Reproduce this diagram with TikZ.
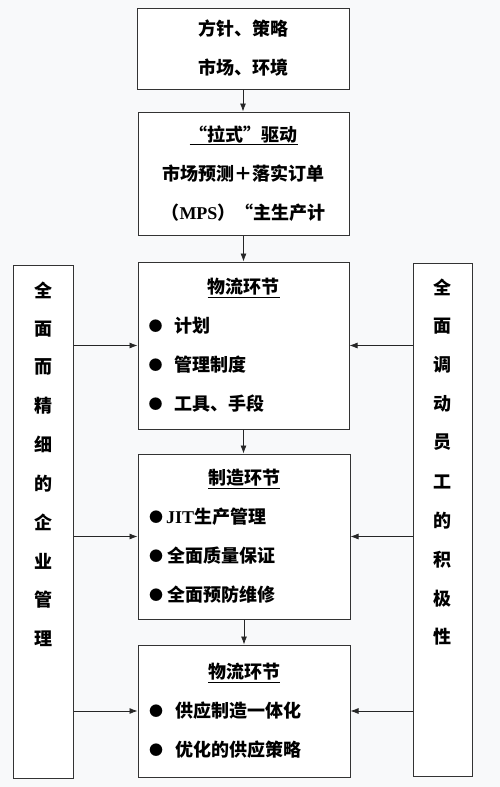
\documentclass[tikz,border=0pt]{standalone}
\usepackage{fontspec}
\setmainfont{Noto Sans CJK SC}
\newfontfamily\latfont{Liberation Serif}
\usepackage{tikz}
\usetikzlibrary{arrows.meta,positioning}
\definecolor{pagebg}{RGB}{248,249,250}
\newcommand{\bul}[2]{\makebox[190pt][l]{\raisebox{1pt}{\makebox[14pt][l]{\fontsize{14}{14}\selectfont●}}\hspace{#1}#2}}

\begin{document}
\begin{tikzpicture}[x=1pt,y=-1pt,
    box/.style={draw=black!80, line width=1pt, fill=white, align=center, inner sep=0pt,
                font=\bfseries\fontsize{18}{39}\selectfont},
    side/.style={draw=black!80, line width=1pt, fill=white, minimum width=60pt,
                 minimum height=513pt, inner sep=0pt},
    vchar/.style={font=\bfseries\fontsize{18}{18}\selectfont, inner sep=0pt},
    arr/.style={-{Latex[length=8pt,width=6pt]}, line width=0.8pt, black!85}]

    \fill[pagebg] (0,0) rectangle (500,787);
    \useasboundingbox (0,0) rectangle (500,787);

    % main column
    \node[box, minimum width=212pt, minimum height=81pt] (plan) at (243,48.5)
        {方针、策略\\市场、环境};
    \node[box, minimum width=211pt, minimum height=123pt] (pull) at (243.5,173.5)
        {\underline{“拉式”驱动}\\市场预测＋落实订单\\（{\latfont MPS}）“主生产计};
    \node[box, minimum width=211pt, minimum height=167pt] (flow) at (243.5,345.5)
        {\underline{物流环节}\\\bul{12pt}{计划}\\\bul{12pt}{管理制度}\\\bul{12pt}{工具、手段}};
    \node[box, minimum width=212pt, minimum height=165pt] (make) at (244,536.5)
        {\underline{制造环节}\\\bul{3pt}{{\latfont JIT}生产管理}\\\bul{4pt}{全面质量保证}\\\bul{4pt}{全面预防维修}};
    \node[box, minimum width=212pt, minimum height=132pt] (supply) at (244,711)
        {\underline{物流环节}\\\bul{12pt}{供应制造一体化}\\\bul{12pt}{优化的供应策略}};

    % side columns
    \node[side] (lean) at (43,521.5) {};
    \node[side, minimum width=59pt] (staff) at (442.5,519.5) {};

    \foreach \c [count=\i] in {全,面,而,精,细,的,企,业,管,理}{
        \node[vchar] (lean\i) at (43,{290+38.7*(\i-1)}) {\c};
    }
    \foreach \c [count=\i] in {全,面,调,动,员,工,的,积,极,性}{
        \node[vchar] (staff\i) at (442.5,{287+38.9*(\i-1)}) {\c};
    }

    % arrows
    \foreach \s/ \d in {plan/pull, pull/flow, flow/make, make/supply}{
        \draw[arr] (\s.south) -- (\s.south |- \d.north);
    }
    \foreach \d in {flow, make, supply}{
        \draw[arr] (lean.east |- \d) -- (\d.west);
        \draw[arr] (staff.west |- \d) -- (\d.east);
    }

\end{tikzpicture}
\end{document}
